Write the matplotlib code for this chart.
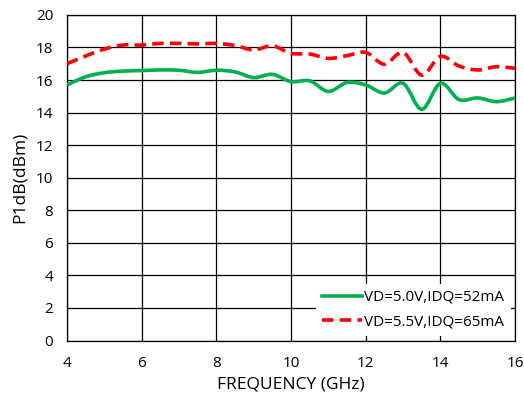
import numpy as np
import matplotlib
matplotlib.use('Agg')
import matplotlib.pyplot as plt
from matplotlib.path import Path
from matplotlib.patches import PathPatch
from matplotlib.lines import Line2D

plt.rcParams['font.family'] = ['Open Sans', 'DejaVu Sans']

# frequency points (GHz)
freq = [4, 4.5, 5, 5.5, 6, 6.5, 7, 7.5, 8, 8.5, 9, 9.5, 10, 10.5, 11, 11.5,
        12, 12.5, 13, 13.5, 14, 14.5, 15, 15.5, 16]

# P1dB (dBm) at VD=5.0V, IDQ=52mA
p1db_50 = [15.7, 16.2, 16.45, 16.55, 16.58, 16.62, 16.6, 16.47, 16.6, 16.5,
           16.15, 16.35, 15.9, 15.95, 15.3, 15.85, 15.7, 15.2, 15.8, 14.2,
           15.8, 14.8, 14.9, 14.67, 14.9]

# P1dB (dBm) at VD=5.5V, IDQ=65mA
p1db_55 = [17.0, 17.48, 17.9, 18.15, 18.15, 18.25, 18.25, 18.22, 18.25, 18.12,
           17.85, 18.1, 17.64, 17.6, 17.33, 17.5, 17.7, 16.97, 17.7, 16.3,
           17.45, 16.86, 16.62, 16.82, 16.72]

labels = ['VD=5.0V,IDQ=52mA', 'VD=5.5V,IDQ=65mA']


# smoothed line like Excel's: Catmull-Rom segments drawn as cubic Bezier curves
def smooth_path(x, y):
    p = np.column_stack([x, y]).astype(float)
    n = len(p)
    verts = [p[0]]
    codes = [Path.MOVETO]
    for i in range(n - 1):
        p0 = p[max(i - 1, 0)]
        p3 = p[min(i + 2, n - 1)]
        c1 = p[i] + (p[i + 1] - p0) / 6
        c2 = p[i + 1] - (p3 - p[i]) / 6
        verts += [c1, c2, p[i + 1]]
        codes += [Path.CURVE4] * 3
    return Path(verts, codes)


green = '#00B050'
red = '#FF0000'
dash = (0, (3.2, 1.7))

fig = plt.figure(figsize=(5.24, 4.03), dpi=100)
ax = fig.add_axes([0.128, 0.155, 0.855, 0.808])

ax.add_patch(PathPatch(smooth_path(freq, p1db_50), fill=False, edgecolor=green,
                       lw=2.6, capstyle='butt', zorder=3))
ax.add_patch(PathPatch(smooth_path(freq, p1db_55), fill=False, edgecolor=red,
                       lw=2.6, ls=dash, capstyle='butt', zorder=3))

ax.set_xlim(4, 16)
ax.set_ylim(0, 20)
ax.set_xticks(np.arange(4, 17, 2))
ax.set_yticks(np.arange(0, 21, 2))
ax.grid(True, color='black', lw=0.9)
ax.tick_params(length=0, labelsize=11)
ax.tick_params(axis='x', pad=11)
ax.tick_params(axis='y', pad=10)
for s in ax.spines.values():
    s.set_color('black')
    s.set_linewidth(0.9)

ax.set_xlabel('FREQUENCY (GHz)', fontsize=12.5, labelpad=4)
ax.set_ylabel('P1dB(dBm)', fontsize=12.5, labelpad=6)

handles = [Line2D([], [], color=green, lw=2.6),
           Line2D([], [], color=red, lw=2.6, ls=dash)]
ax.legend(handles, labels, loc='lower right', fontsize=11, frameon=True,
          fancybox=False, edgecolor='none', framealpha=1, handlelength=2.6,
          borderaxespad=0.3, handletextpad=0.15, labelspacing=0.65)

fig.savefig('out.png', dpi=100)
